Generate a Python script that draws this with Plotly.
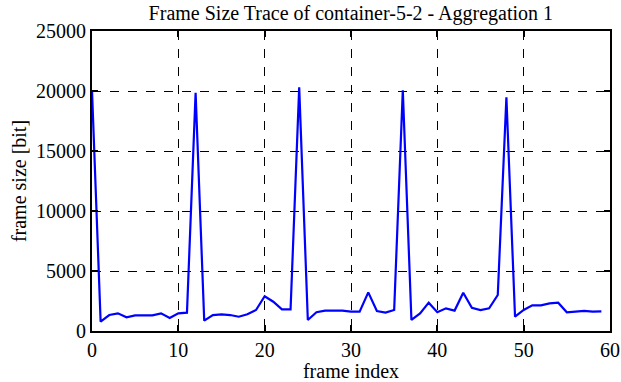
import plotly.graph_objects as go

frame_index = list(range(60))
frame_size = [20050, 780, 1330, 1470, 1140, 1300, 1300, 1300, 1470, 1080,
              1470, 1530, 19860, 860, 1330, 1390, 1330, 1190, 1390, 1750,
              2900, 2440, 1810, 1810, 20300, 920, 1560, 1700, 1700, 1700,
              1610, 1610, 3220, 1670, 1530, 1750, 20060, 920, 1470, 2360,
              1560, 1890, 1700, 3190, 1940, 1750, 1890, 3000, 19480, 1190,
              1750, 2140, 2140, 2300, 2360, 1560, 1610, 1670, 1610, 1640]

x_ticks = [0, 10, 20, 30, 40, 50, 60]
y_ticks = [0, 5000, 10000, 15000, 20000, 25000]
y_tick_labels = ["0", "5000", "10000", "15000", "20000", "25000"]

font_family = "Liberation Serif, Times New Roman, serif"

fig = go.Figure()
fig.add_trace(go.Scatter(x=frame_index, y=frame_size, mode="lines",
                         line=dict(color="#0000ff", width=2.2)))

axis_common = dict(showline=True, linecolor="black", linewidth=2, mirror="ticks",
                   ticks="inside", ticklen=6, tickcolor="black", tickwidth=2,
                   showgrid=True, gridcolor="black", griddash="dash", gridwidth=1,
                   zeroline=False, automargin=False,
                   tickfont=dict(family=font_family, size=20, color="black"))

fig.update_layout(
    width=621, height=382,
    margin=dict(l=92, r=11, t=31, b=51),
    paper_bgcolor="white", plot_bgcolor="white",
    showlegend=False,
    title=dict(text="Frame Size Trace of container-5-2 - Aggregation 1",
               x=0.565, xanchor="center", y=0.967, yanchor="middle",
               font=dict(family=font_family, size=20, color="black")),
    xaxis=dict(range=[0, 60], tickvals=x_ticks,
               title=dict(text="frame index", standoff=4,
                          font=dict(family=font_family, size=20, color="black")),
               **axis_common),
    yaxis=dict(range=[0, 25000], tickvals=y_ticks, ticktext=y_tick_labels,
               title=dict(text="frame size [bit]", standoff=4,
                          font=dict(family=font_family, size=20, color="black")),
               **axis_common),
)

fig.write_html("out.html", config={"displayModeBar": False},
               post_script="document.body.style.margin='0px';")
